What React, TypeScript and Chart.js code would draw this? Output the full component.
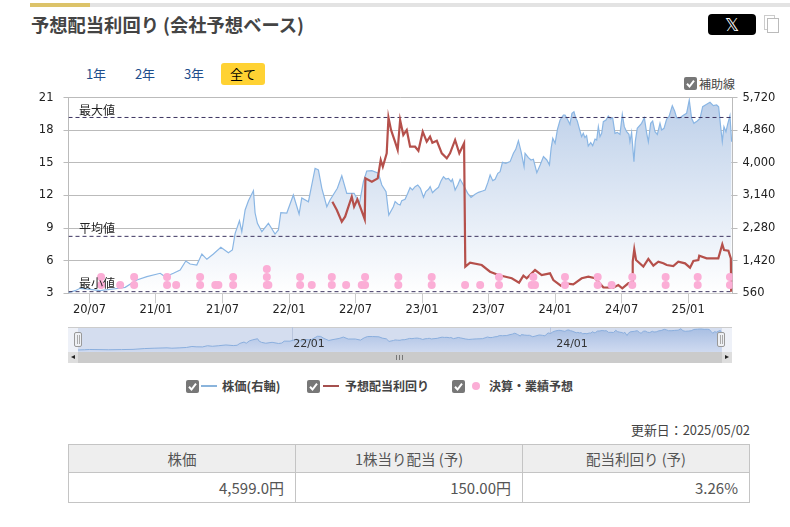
import React, { useEffect, useRef } from "react";
import { Chart, registerables } from "chart.js";

Chart.register(...registerables);

const tickMonths = [0, 6, 12, 18, 24, 30, 36, 42, 48, 54];
const tickLabels = ["20/07", "21/01", "21/07", "22/01", "22/07", "23/01", "23/07", "24/01", "24/07", "25/01"];

// x positions are months counted from 2020/07
const priceMonths = [
  -1.89, -1.29, -0.84, 0.06, 0.96, 2.14, 3.22, 4.27, 5.18, 6.38, 6.83, 7.57, 8.18, 8.69, 9.08, 9.68, 10.14, 10.59, 11.18, 11.85,
  12.53, 12.89, 13.14, 13.53, 13.74, 14.04, 14.34, 14.79, 14.94, 15.15, 15.55, 16.14, 16.74, 17.04, 17.26, 17.8, 18.39, 18.91, 19.15, 19.75,
  20.14, 20.35, 20.65, 20.96, 21.41, 21.7, 22.36, 22.76, 23.21, 23.87, 24.35, 24.71, 25.01, 25.47, 26.06, 26.37, 26.75, 27, 27.41,
  27.57, 27.81, 28.02, 28.17, 28.47, 28.71, 28.92, 29.13, 29.37, 29.61, 29.85, 30.13, 30.34, 30.58, 30.73, 30.94, 31.18, 31.48, 31.72, 31.93,
  32.14, 32.38, 32.62, 32.74, 32.98, 33.22, 33.43, 33.64, 33.88, 34.12, 34.42, 34.78, 35.09, 35.45, 35.69, 35.93, 36.14, 36.38, 36.59, 36.83,
  37.04, 37.25, 37.55, 37.94, 38.24, 38.45, 38.69, 38.93, 39.2, 39.29, 39.59, 39.83, 40.04, 40.35, 40.65, 40.95, 41.25, 41.49, 41.64, 41.79,
  42, 42.21, 42.45, 42.75, 42.89, 43.1, 43.34, 43.52, 43.7, 43.85, 44, 44.18, 44.39, 44.54, 44.69, 44.84, 44.99, 45.21, 45.39, 45.6,
  45.75, 45.9, 46.05, 46.2, 46.35, 46.59, 46.8, 47.01, 47.19, 47.4, 47.61, 47.85, 48.06, 48.24, 48.45, 48.66, 48.75, 48.9, 49.11, 49.23,
  49.41, 49.8, 50.05, 50.26, 50.41, 50.62, 50.8, 51.01, 51.22, 51.46, 51.61, 51.82, 52.06, 52.27, 52.57, 52.78, 52.96, 53.2, 53.5, 53.86,
  54.1, 54.31, 54.52, 54.82, 55.07, 55.31, 55.67, 55.97, 56.27, 56.57, 56.75, 56.93, 57.08, 57.23, 57.41, 57.56, 57.77, 57.92,
];
const priceValues = [
  576, 629, 692, 666, 629, 673, 718, 911, 998, 1088, 998, 1088, 1175, 1412, 1333, 1307, 1597, 1457, 1597, 1773,
  1631, 1702, 2143, 2475, 2185, 2757, 3003, 3267, 2678, 2407, 2185, 2407, 2124, 2230, 2686, 2678, 3153, 2652, 3074, 2976,
  3549, 3858, 3813, 3330, 2845, 3021, 3330, 3662, 3198, 3198, 2934, 3504, 3786, 3794, 3726, 3417, 3240, 2625, 2845,
  2978, 2916, 2890, 3004, 3040, 3198, 3347, 3286, 3374, 3418, 3330, 3092, 3242, 3303, 3374, 3215, 3286, 3356, 3532, 3637,
  3576, 3593, 3505, 3567, 3286, 3418, 3567, 3462, 3330, 3198, 3092, 3171, 3224, 3259, 3286, 3479, 3681, 3532, 3567, 3725,
  3769, 4015, 3989, 4033, 4253, 4358, 4587, 4297, 3901, 4253, 4139, 4077, 4095, 3743, 3945, 4165, 4077, 3945, 4385, 4649,
  4517, 4886, 5132, 5264, 5263, 5158, 5017, 5307, 5351, 5193, 5105, 4912, 4692, 4780, 4665, 4718, 4446, 4534, 4454, 4630,
  4604, 4956, 4692, 4780, 5088, 5132, 5237, 5158, 5193, 4780, 4806, 4753, 5281, 4956, 4824, 4753, 4560, 4806, 4032, 4560,
  4912, 5044, 5193, 4780, 4560, 5044, 5105, 4824, 4753, 5044, 4868, 4912, 5158, 5219, 5510, 5369, 5193, 5175, 5246, 5307,
  5659, 5175, 5044, 5105, 5175, 5483, 5545, 5598, 5510, 5527, 5483, 4956, 4560, 4956, 4824, 5017, 5246, 4560,
];

const yieldMonths = [
  21.91, 22.31, 22.76, 23.06, 23.36, 23.66, 23.87, 24.17, 24.47, 24.83, 24.89, 25.47, 26, 26.27, 26.46, 26.81, 26.97, 27.2, 27.56, 27.8,
  28.02, 28.31, 28.62, 28.92, 29.37, 29.67, 30.06, 30.42, 30.72, 30.93, 31.33, 31.78, 32.23, 32.52, 32.98, 33.36, 33.79, 33.9, 34.33, 35.38,
  36.13, 36.88, 38.09, 38.75, 39.14, 39.44, 40.19, 40.79, 41.54, 41.84, 42.51, 42.89, 43.64, 44.4, 45, 45.6, 46.35, 47.25, 47.7, 48.06,
  48.6, 48.94, 49, 49.14, 49.3, 49.96, 50.41, 50.86, 51.31, 51.76, 52.07, 52.66, 53.11, 53.72, 54.17, 54.47, 54.92, 55, 55.67, 56.72,
  57.08, 57.24, 57.63, 57.85, 57.88,
];
const yieldValues = [
  11.43, 10.67, 9.59, 10.05, 10.97, 11.89, 10.97, 11.65, 10.82, 9.81, 13.58, 13.27, 13.58, 15.27, 14.65, 15.88, 19.18, 18.03, 16.95, 16.19,
  18.95, 17.57, 18.03, 16.49, 16.49, 16.12, 17.87, 16.95, 17.41, 16.86, 17.04, 15.88, 15.42, 15.88, 17.11, 15.88, 16.8, 5.45, 5.82, 5.6,
  4.99, 4.68, 4.38, 3.98, 4.62, 4.38, 5.14, 4.68, 4.84, 4.22, 3.7, 3.92, 3.83, 4.38, 4.53, 4.38, 3.55, 3.52, 3.76, 3.46,
  3.92, 4.01, 5.91, 7.05, 6.06, 5.45, 6.16, 5.54, 5.91, 5.76, 5.6, 5.51, 5.91, 5.76, 5.36, 5.97, 6.06, 6.46, 6.22, 6.22,
  7.51, 6.98, 6.92, 6.22, 3.15,
];

const eventMonths = [
  1.05, 1.05, 2.77, 4.03, 4.03, 7, 7, 7.82, 9.98, 9.98, 11.35, 11.63, 12.96, 12.96, 16, 16, 16, 16.14, 19, 19,
  20.05, 21.86, 21.86, 23.15, 24.56, 24.86, 24.86, 27.86, 27.86, 30.87, 30.87, 33.88, 35.24, 36.94, 36.94, 39.89, 40.19, 40.04, 42.89, 42.89,
  45.84, 45.84, 47.1, 48.96, 48.96, 51.97, 51.97, 54.86, 54.86, 57.77, 57.77,
];
const eventLevels = [
  4.5, 3.76, 3.76, 4.5, 3.76, 4.5, 3.76, 3.76, 4.5, 3.76, 3.76, 3.76, 4.5, 3.76, 5.24, 4.5, 3.76, 3.76, 4.5, 3.76,
  3.76, 4.5, 3.76, 3.76, 3.76, 4.5, 3.76, 4.5, 3.76, 4.5, 3.76, 3.76, 3.76, 4.5, 3.76, 3.76, 3.76, 4.5, 4.5, 3.76,
  4.5, 3.76, 3.76, 4.5, 3.76, 4.5, 3.76, 4.5, 3.76, 4.5, 3.76,
];

const yieldMax = 19.18;
const yieldAvg = 8.24;
const yieldMin = 3.15;
const xMin = -1.89;
const xMax = 58;
const navTickMonths = [18, 42];

const legendItems = ["株価(右軸)", "予想配当利回り", "決算・業績予想"];
const tableHead = ["株価", "1株当り配当 (予)", "配当利回り (予)"];
const tableRow = ["4,599.0円", "150.00円", "3.26%"];

const pairs = (xs: number[], ys: number[]) => xs.map((x, i) => ({ x, y: ys[i] }));
const CJK = '"Noto Sans CJK JP", "Noto Sans", sans-serif';
const LATIN = '"DejaVu Sans", sans-serif';

const abs = (x: number, y: number, w: number, h: number, extra: React.CSSProperties = {}): React.CSSProperties => ({
  position: "absolute", left: x, top: y, width: w, height: h, ...extra,
});

function Check({ x, y }: { x: number; y: number }) {
  return (
    <svg style={abs(x, y, 13, 13)} viewBox="0 0 13 13">
      <rect width="13" height="13" rx="2" fill="#777" />
      <path d="M3 6.8 L5.5 9.5 L10 3.6" stroke="#fff" strokeWidth="2" fill="none" />
    </svg>
  );
}

function Label({ x, y, w, h, text, style }: { x: number; y: number; w: number; h: number; text: string; style?: React.CSSProperties }) {
  return (
    <div style={abs(x, y, w, h, { lineHeight: h + "px", whiteSpace: "nowrap", fontFamily: CJK, ...style })}>{text}</div>
  );
}

export default function App() {
  const mainRef = useRef<HTMLCanvasElement>(null);
  const navRef = useRef<HTMLCanvasElement>(null);

  useEffect(() => {
    const refLine = (v: number) => ({
      type: "line" as const,
      data: [{ x: xMin, y: v }, { x: xMax, y: v }],
      yAxisID: "y",
      borderColor: "#3d3560",
      borderWidth: 1,
      borderDash: [4, 3],
      pointRadius: 0,
      order: 3,
    });
    const main = new Chart(mainRef.current!, {
      type: "line",
      data: {
        datasets: [
          {
            data: pairs(priceMonths, priceValues),
            yAxisID: "yR",
            borderColor: "#8ab6e4",
            borderWidth: 1.2,
            pointRadius: 0,
            tension: 0,
            fill: "start",
            order: 5,
            backgroundColor: (c: any) => {
              const a = c.chart.chartArea;
              if (!a) return "#dde7f5";
              const g = c.chart.ctx.createLinearGradient(0, a.top, 0, a.bottom);
              g.addColorStop(0, "#bccfe9");
              g.addColorStop(1, "#ffffff");
              return g;
            },
          },
          refLine(yieldMax),
          refLine(yieldAvg),
          refLine(yieldMin),
          {
            data: pairs(yieldMonths, yieldValues),
            yAxisID: "y",
            borderColor: "#b5504b",
            borderWidth: 2.2,
            pointRadius: 0,
            tension: 0,
            order: 2,
          },
          {
            data: pairs(eventMonths, eventLevels),
            yAxisID: "y",
            showLine: false,
            pointRadius: 4,
            pointBackgroundColor: "#fbaed6",
            pointBorderWidth: 0,
            order: 1,
          },
        ] as any,
      },
      options: {
        animation: false,
        responsive: false,
        layout: { padding: { top: 12.7, left: 0, right: 0, bottom: 0 }, autoPadding: false },
        plugins: { legend: { display: false }, tooltip: { enabled: false } },
        scales: {
          x: {
            type: "linear",
            min: xMin,
            max: xMax,
            afterBuildTicks: (s: any) => { s.ticks = tickMonths.map((value) => ({ value })); },
            afterFit: (s: any) => { s.height = 31.7; s.paddingLeft = 0; s.paddingRight = 0; },
            grid: { drawOnChartArea: false, tickLength: 10, color: "#cccccc" },
            border: { color: "#cccccc" },
            ticks: {
              autoSkip: false,
              maxRotation: 0,
              padding: 0,
              color: "#222",
              font: { family: LATIN, size: 11.5 },
              callback: (_v: any, i: number) => tickLabels[i],
            },
          },
          y: {
            position: "left",
            min: 3,
            max: 21,
            afterFit: (s: any) => { s.width = 68.5; s.paddingTop = 0; s.paddingBottom = 0; },
            grid: { color: "#bbbbbb", tickLength: 5 },
            border: { color: "#bbbbbb" },
            ticks: { stepSize: 3, padding: 10, color: "#222", font: { family: LATIN, size: 11.5 } },
          },
          yR: {
            position: "right",
            min: 560,
            max: 5720,
            afterFit: (s: any) => { s.width = 57.5; s.paddingTop = 0; s.paddingBottom = 0; },
            grid: { drawOnChartArea: false, color: "#bbbbbb", tickLength: 5 },
            border: { color: "#bbbbbb" },
            ticks: {
              stepSize: 860,
              padding: 5,
              color: "#222",
              font: { family: LATIN, size: 11.5 },
              callback: (v: any) => Number(v).toLocaleString("en-US"),
            },
          },
        },
      } as any,
    });

    const nav = new Chart(navRef.current!, {
      type: "line",
      data: {
        datasets: [
          {
            data: pairs(priceMonths, priceValues),
            borderColor: "#8aaedd",
            borderWidth: 1,
            pointRadius: 0,
            tension: 0,
            fill: "start",
            backgroundColor: (c: any) => {
              const a = c.chart.chartArea;
              if (!a) return "#bccbe8";
              const g = c.chart.ctx.createLinearGradient(0, a.top, 0, a.bottom);
              g.addColorStop(0, "#a6bde2");
              g.addColorStop(1, "#cfdaf0");
              return g;
            },
          },
        ],
      },
      options: {
        animation: false,
        responsive: false,
        layout: { padding: 0, autoPadding: false },
        plugins: { legend: { display: false }, tooltip: { enabled: false } },
        scales: {
          x: {
            type: "linear",
            min: xMin,
            max: 57.93,
            afterBuildTicks: (s: any) => { s.ticks = navTickMonths.map((value) => ({ value })); },
            afterFit: (s: any) => { s.height = 0; },
            grid: { color: "#b9c5dd", drawTicks: false },
            border: { display: false },
            ticks: { display: false },
          },
          y: { display: false, min: 92, max: 6070 },
        },
      } as any,
    });
    return () => { main.destroy(); nav.destroy(); };
  }, []);

  return (
    <div style={{ position: "fixed", left: 0, top: 0, width: 790, height: 527, background: "#fff", overflow: "hidden", fontFamily: CJK }}>
      <div style={abs(30, 3, 60, 3.5, { background: "#dcc36a" })} />
      <div style={abs(90, 3, 700, 3.5, { background: "#e3e3e3" })} />
      <Label x={31} y={11} w={300} h={26} text="予想配当利回り (会社予想ベース)" style={{ fontSize: 18.3, fontWeight: 700, color: "#444" }} />

      <div style={abs(708, 14, 48, 21, { background: "#000", borderRadius: 4 })} />
      <Label x={708} y={14} w={48} h={21} text="𝕏" style={{ textAlign: "center", color: "#fff", fontSize: 18, fontFamily: LATIN }} />
      <div style={abs(764, 15, 11, 15, { border: "1.5px solid #ccc", boxSizing: "border-box" })} />
      <div style={abs(767, 18, 12, 15, { border: "1.5px solid #bbb", boxSizing: "border-box", background: "#fff" })} />

      <Label x={76} y={63} w={40} h={22} text="1年" style={{ textAlign: "center", fontSize: 13, color: "#1f4e8c" }} />
      <Label x={125} y={63} w={40} h={22} text="2年" style={{ textAlign: "center", fontSize: 13, color: "#1f4e8c" }} />
      <Label x={174} y={63} w={40} h={22} text="3年" style={{ textAlign: "center", fontSize: 13, color: "#1f4e8c" }} />
      <div style={abs(221, 63, 44, 22, { background: "#ffd233", borderRadius: 3 })} />
      <Label x={221} y={63} w={44} h={22} text="全て" style={{ textAlign: "center", fontSize: 13, color: "#000" }} />

      <Check x={684} y={77} />
      <Label x={699} y={75} w={40} h={18} text="補助線" style={{ fontSize: 12, color: "#444" }} />

      <canvas ref={mainRef} width={790} height={240} style={abs(0, 85, 790, 240, { display: "block" })} />

      <Label x={79} y={101} w={40} h={18} text="最大値" style={{ fontSize: 12, color: "#222" }} />
      <Label x={79} y={219} w={40} h={18} text="平均値" style={{ fontSize: 12, color: "#222" }} />
      <Label x={79} y={274} w={40} h={18} text="最小値" style={{ fontSize: 12, color: "#222" }} />

      <div style={abs(68, 327, 664, 25, { background: "#eef1f8", borderTop: "1px solid #ccc", boxSizing: "border-box" })} />
      <div style={abs(78, 327.5, 644, 24.5, { background: "#d4ddef" })} />
      <canvas ref={navRef} width={644} height={25} style={abs(78, 327, 644, 25, { display: "block" })} />
      <Label x={289} y={336} w={40} h={16} text="22/01" style={{ textAlign: "center", fontSize: 11, color: "#333", fontFamily: LATIN }} />
      <Label x={552} y={336} w={40} h={16} text="24/01" style={{ textAlign: "center", fontSize: 11, color: "#333", fontFamily: LATIN }} />
      <div style={abs(74, 332, 8, 15, { background: "#eef0f4", border: "1px solid #999", borderRadius: 2, boxSizing: "border-box" })} />
      <div style={abs(717, 332, 8, 15, { background: "#eef0f4", border: "1px solid #999", borderRadius: 2, boxSizing: "border-box" })} />
      <div style={abs(76.5, 335, 1, 9, { background: "#aaa" })} />
      <div style={abs(78.5, 335, 1, 9, { background: "#aaa" })} />
      <div style={abs(719.5, 335, 1, 9, { background: "#aaa" })} />
      <div style={abs(721.5, 335, 1, 9, { background: "#aaa" })} />

      <div style={abs(68, 352, 664, 10.5, { background: "#cbcbcb" })} />
      <div style={abs(68, 352, 10, 10.5, { background: "#dedede" })} />
      <div style={abs(722, 352, 10, 10.5, { background: "#dedede" })} />
      <div style={abs(71, 355, 0, 0, { borderTop: "2.5px solid transparent", borderBottom: "2.5px solid transparent", borderRight: "4px solid #222" })} />
      <div style={abs(725, 355, 0, 0, { borderTop: "2.5px solid transparent", borderBottom: "2.5px solid transparent", borderLeft: "4px solid #222" })} />
      <div style={abs(396, 355, 1, 5, { background: "#777" })} />
      <div style={abs(399, 355, 1, 5, { background: "#777" })} />
      <div style={abs(402, 355, 1, 5, { background: "#777" })} />

      <Check x={186} y={380} />
      <div style={abs(201, 385, 16, 2, { background: "#8ab4dc" })} />
      <Label x={222} y={377} w={70} h={18} text={legendItems[0]} style={{ fontSize: 12.3, fontWeight: 700, color: "#444" }} />
      <Check x={307} y={380} />
      <div style={abs(323, 385, 16, 2, { background: "#a5504e" })} />
      <Label x={345} y={377} w={90} h={18} text={legendItems[1]} style={{ fontSize: 12, fontWeight: 700, color: "#444" }} />
      <Check x={452} y={380} />
      <div style={abs(472, 382, 8, 8, { background: "#fbaed6", borderRadius: "50%" })} />
      <Label x={489} y={377} w={90} h={18} text={legendItems[2]} style={{ fontSize: 12, fontWeight: 700, color: "#444" }} />

      <Label x={600} y={421} w={150} h={18} text="更新日：2025/05/02" style={{ textAlign: "right", fontSize: 12.9, color: "#444" }} />

      <table style={{ position: "absolute", left: 68, top: 444, width: 682, height: 58, borderCollapse: "collapse", tableLayout: "fixed", fontFamily: CJK, fontSize: 14.5, color: "#555" }}>
        <tbody>
          <tr style={{ height: 28 }}>
            {tableHead.map((t) => (
              <td key={t} style={{ border: "1px solid #c4c4c4", background: "#eeeeee", textAlign: "center", padding: 0 }}>{t}</td>
            ))}
          </tr>
          <tr style={{ height: 30 }}>
            {tableRow.map((t) => (
              <td key={t} style={{ border: "1px solid #c4c4c4", textAlign: "right", padding: "0 11px 0 0", fontSize: 15 }}>{t}</td>
            ))}
          </tr>
        </tbody>
      </table>
    </div>
  );
}
